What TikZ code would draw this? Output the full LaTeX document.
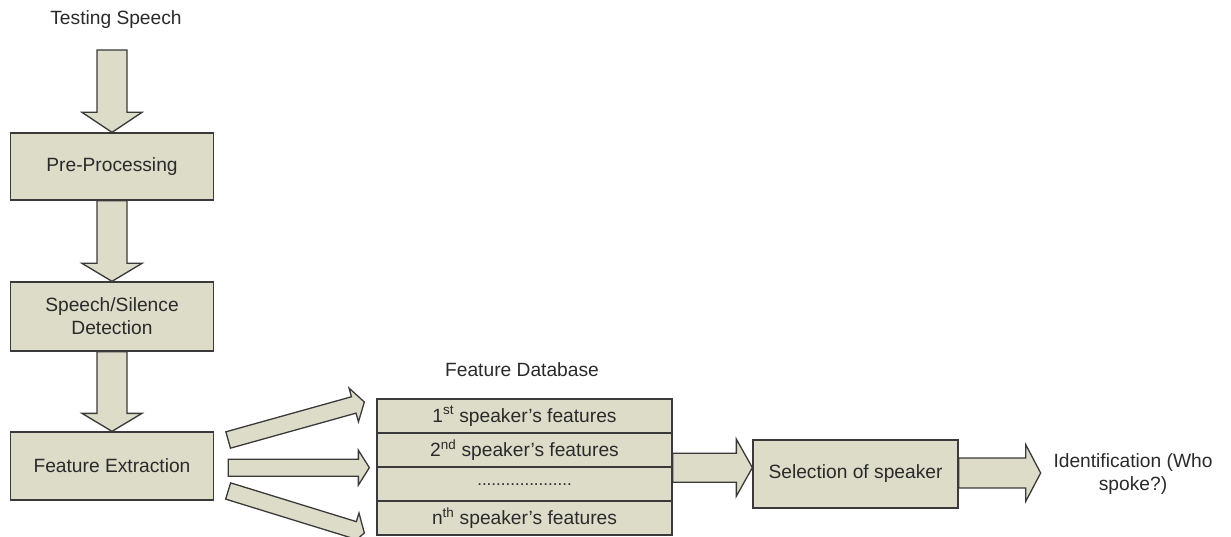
\documentclass[tikz,border=0pt]{standalone}
\usepackage{fontspec}
\setmainfont{Liberation Sans}
\usetikzlibrary{calc}
\definecolor{boxfill}{HTML}{DCDCC9}
\definecolor{edge}{HTML}{3A3A3A}
\definecolor{ink}{HTML}{2A2A2A}
\tikzset{
  label text/.style={text=ink, font=\fontsize{19.2}{23}\selectfont, align=center, inner sep=0pt},
  stage/.style={label text, draw=edge, fill=boxfill, line width=1.3pt,
    minimum width=203pt, minimum height=67pt},
  dbrow/.style={label text, draw=edge, fill=boxfill, line width=1.3pt,
    minimum width=295pt, minimum height=34pt},
  blockarrow/.style={draw=edge, fill=boxfill, line width=1.3pt, line join=miter},
}
% block arrow: #1 shaft half width, #2 head half width, #3 head length, #4 tail, #5 tip
\newcommand\fatarrow[5]{%
  \coordinate (fa-base) at ($(#5)!#3pt!(#4)$);
  \draw[blockarrow]
    ($(#4)!#1pt!90:(#5)$) -- ($(fa-base)!#1pt!90:(#5)$) -- ($(fa-base)!#2pt!90:(#5)$)
    -- (#5) -- ($(fa-base)!#2pt!-90:(#5)$) -- ($(fa-base)!#1pt!-90:(#5)$)
    -- ($(#4)!#1pt!-90:(#5)$) -- cycle;
}
\begin{document}
\begin{tikzpicture}[x=1pt, y=-1pt]
  \useasboundingbox (0,0) rectangle (1231,537);

  % processing chain
  \node[label text] (ts) at (116,20) {Testing Speech};
  \node[stage] (pre) at (112,166.5) {Pre-Processing};
  \node[stage, minimum height=69pt] (sil) at (112,316.5) {Speech/Silence\\Detection};
  \node[stage, minimum height=68pt] (fe) at (112,466) {Feature Extraction};

  % feature database
  \node[label text] (dbl) at (522,370) {Feature Database};
  \node[dbrow] (r1) at (524.5,416) {1\textsuperscript{st} speaker's features};
  \node[dbrow] (r2) at (524.5,450) {2\textsuperscript{nd} speaker's features};
  \node[dbrow] (r3) at (524.5,484) {\raisebox{-3pt}{\fontsize{17}{20}\selectfont ....................}};
  \node[dbrow] (r4) at (524.5,518) {n\textsuperscript{th} speaker's features};

  % decision
  \node[stage, minimum width=205pt, minimum height=68pt] (sel) at (855.5,474) {Selection of speaker};
  \node[label text] (id) at (1133,474) {Identification (Who\\spoke?)};

  % connector end points
  \coordinate (ts-out) at (pre.north |- 0,50);
  \coordinate (fe-up) at ($(fe.east)+(14,-26)$);
  \coordinate (fe-mid) at ($(fe.east |- r2.south west)+(14,0)$);
  \coordinate (fe-low) at ($(fe.east)+(14,25)$);
  \coordinate (r1-in) at ($(r1.west)+(-12,-14)$);
  \coordinate (r2-in) at ($(r2.south west)+(-7,0)$);
  \coordinate (r4-in) at ($(r4.west)+(-12,15)$);
  \coordinate (sel-in) at (sel.west |- r2.south east);
  \coordinate (id-in) at ($(sel.east)+(82,-1)$);
  \coordinate (sel-out) at ($(sel.east)+(0,-1)$);

  % block arrows
  \fatarrow{15}{30}{20}{ts-out}{pre.north}
  \fatarrow{15}{30}{18}{pre.south}{sil.north}
  \fatarrow{15}{30}{18}{sil.south}{fe.north}
  \fatarrow{8.5}{17.5}{11}{fe-up}{r1-in}
  \fatarrow{8.5}{17.5}{11}{fe-mid}{r2-in}
  \fatarrow{8.5}{17.5}{11}{fe-low}{r4-in}
  \fatarrow{14.5}{28.5}{16}{r2.south east}{sel-in}
  \fatarrow{15}{28.5}{15}{sel-out}{id-in}
\end{tikzpicture}
\end{document}
